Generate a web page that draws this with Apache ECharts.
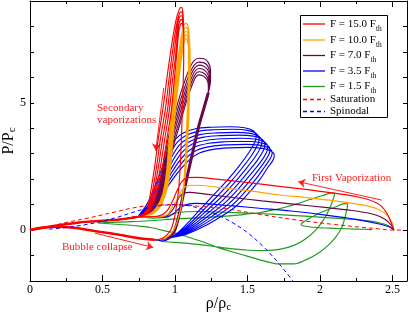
<!DOCTYPE html>
<html><head><meta charset="utf-8">
<script src="https://cdn.jsdelivr.net/npm/echarts@6/dist/echarts.min.js"></script>
<style>html,body{margin:0;padding:0;background:#fff}#c{width:409px;height:315px}</style>
</head><body><div id="c"></div>
<script>
// ---------- tick labels ----------
const xTickLabels = [0, 0.5, 1, 1.5, 2, 2.5];
const yTickLabels = [0, 5];

// ---------- reference curves ----------
const saturation = [[0,0],[0.1,0.1],[0.25,0.3],[0.4,0.47],[0.5,0.6],[0.6,0.73],[0.7,0.86],[0.8,0.95],[0.9,0.99],[1.0,1.0],[1.2,0.92],[1.36,0.83],[1.58,0.62],[1.86,0.38],[2.1,0.22],[2.27,0.12],[2.4,0.05],[2.5,0.0],[2.57,0.0]];
const spinodal = [[0.13,0.04],[0.2,0.07],[0.3,0.14],[0.4,0.23],[0.5,0.35],[0.6,0.5],[0.7,0.68],[0.8,0.85],[0.9,0.96],[1.0,1.0],[1.1,0.95],[1.2,0.8],[1.3,0.58],[1.4,0.28],[1.5,-0.1],[1.6,-0.6],[1.7,-1.2],[1.8,-1.9],[1.82,-2.05]];

// ---------- shared paths (bubble collapse / return to the origin) ----------
const collapsePath = [[0,0],[0.08,0.09],[0.18,0.13],[0.3,0.09],[0.46,-0.05],[0.6,-0.17],[0.7,-0.27],[0.78,-0.34],[0.86,-0.38]];
const returnPath = [[0.74,0.52],[0.65,0.44],[0.57,0.39],[0.45,0.35],[0.34,0.3],[0.22,0.21],[0.1,0.1],[0,0]];

// ---------- F = 15.0 Fth ----------
const redFirst = [[2.51,0],[2.49,0.3],[2.46,0.67],[2.41,1.0],[2.3,1.25],[2.1,1.45],[1.9,1.6],[1.72,1.72],[1.5,1.87],[1.3,1.99],[1.15,2.07],[1.09,2.06],[1.05,1.92],[1.01,1.5],[0.98,1.1],[0.94,0.72],[0.89,0.56],[0.8,0.52]];
const red0 = [[0.92,-0.3],[0.97,0.0],[1.0,0.6],[1.025,1.6],[1.04,3.0],[1.052,5.0],[1.06,6.8],[1.06,7.9],[1.055,8.5],[1.045,8.75],[1.03,8.68],[1.005,8.2],[0.975,7.2],[0.945,6.0],[0.92,4.9],[0.885,3.6],[0.86,2.5],[0.835,1.6],[0.815,1.0],[0.785,0.65]];
const red1 = [[0.92,-0.3],[0.97,0.0],[1.0,0.6],[1.025,1.6],[1.04,3.0],[1.052,5.0],[1.06,6.8],[1.06,7.85],[1.055,8.35],[1.045,8.57],[1.03,8.5],[1.01,8.05],[0.985,7.1],[0.958,5.9],[0.935,4.8],[0.9,3.6],[0.873,2.5],[0.847,1.6],[0.822,1.0],[0.79,0.65]];
const red2 = [[0.92,-0.3],[0.97,0.0],[1.0,0.6],[1.025,1.6],[1.04,3.0],[1.052,5.0],[1.06,6.8],[1.06,7.8],[1.055,8.22],[1.045,8.42],[1.03,8.35],[1.015,7.95],[0.995,7.0],[0.97,5.9],[0.95,4.8],[0.915,3.6],[0.886,2.5],[0.858,1.6],[0.83,1.0],[0.797,0.65]];
const red3 = [[0.92,-0.3],[0.97,0.0],[1.0,0.6],[1.025,1.6],[1.04,3.0],[1.052,5.0],[1.06,6.8],[1.06,7.75],[1.055,8.1],[1.045,8.28],[1.033,8.2],[1.02,7.85],[1.005,6.9],[0.983,5.9],[0.963,4.8],[0.93,3.6],[0.9,2.5],[0.87,1.6],[0.838,1.0],[0.805,0.65]];
const red4 = [[0.92,-0.3],[0.97,0.0],[1.0,0.6],[1.025,1.6],[1.04,3.0],[1.052,5.0],[1.06,6.8],[1.06,7.7],[1.055,7.98],[1.045,8.12],[1.036,8.05],[1.025,7.75],[1.012,6.9],[0.995,5.9],[0.977,4.8],[0.945,3.6],[0.914,2.5],[0.882,1.6],[0.847,1.0],[0.812,0.65]];

// ---------- F = 10.0 Fth ----------
const orangeFirst = [[2.51,0],[2.5,0.25],[2.47,0.55],[2.4,0.82],[2.3,0.98],[2.1,1.15],[1.9,1.28],[1.72,1.38],[1.5,1.55],[1.3,1.68],[1.15,1.76],[1.09,1.74],[1.05,1.6],[1.02,1.25],[0.98,0.9],[0.95,0.62],[0.9,0.52],[0.8,0.5]];
const orange0 = [[0.93,-0.32],[0.98,-0.1],[1.02,0.4],[1.05,1.2],[1.075,2.4],[1.09,3.8],[1.1,5.2],[1.105,6.5],[1.1,7.5],[1.09,8.0],[1.075,8.13],[1.06,8.02],[1.04,7.5],[1.015,6.5],[0.99,5.4],[0.97,4.3],[0.955,3.2],[0.94,2.2],[0.915,1.4],[0.875,0.9],[0.82,0.62]];
const orange1 = [[0.93,-0.32],[0.98,-0.1],[1.02,0.4],[1.05,1.2],[1.073,2.4],[1.087,3.8],[1.097,5.2],[1.102,6.5],[1.098,7.45],[1.09,7.85],[1.075,7.97],[1.06,7.87],[1.043,7.4],[1.02,6.45],[0.997,5.4],[0.977,4.3],[0.962,3.2],[0.946,2.2],[0.92,1.4],[0.88,0.9],[0.825,0.62]];
const orange2 = [[0.93,-0.32],[0.98,-0.1],[1.02,0.4],[1.05,1.2],[1.071,2.4],[1.084,3.8],[1.094,5.2],[1.099,6.5],[1.096,7.4],[1.088,7.72],[1.075,7.82],[1.062,7.72],[1.046,7.3],[1.025,6.4],[1.004,5.4],[0.984,4.3],[0.969,3.2],[0.952,2.2],[0.925,1.4],[0.885,0.9],[0.83,0.62]];
const orange3 = [[0.93,-0.32],[0.98,-0.1],[1.02,0.4],[1.05,1.2],[1.069,2.4],[1.081,3.8],[1.091,5.2],[1.096,6.5],[1.094,7.3],[1.086,7.58],[1.075,7.68],[1.063,7.58],[1.05,7.2],[1.03,6.35],[1.01,5.4],[0.99,4.3],[0.975,3.2],[0.958,2.2],[0.93,1.4],[0.89,0.9],[0.835,0.62]];
const orange4 = [[0.93,-0.32],[0.98,-0.1],[1.02,0.4],[1.05,1.2],[1.067,2.4],[1.078,3.8],[1.088,5.2],[1.093,6.5],[1.092,7.2],[1.085,7.43],[1.075,7.52],[1.064,7.43],[1.053,7.1],[1.035,6.3],[1.016,5.4],[0.996,4.3],[0.981,3.2],[0.964,2.2],[0.935,1.4],[0.895,0.9],[0.84,0.62]];

// ---------- F = 7.0 Fth ----------
const purpleFirst = [[2.51,0],[2.49,0.2],[2.45,0.42],[2.38,0.6],[2.25,0.75],[2.05,0.88],[1.8,1.03],[1.6,1.15],[1.4,1.28],[1.2,1.42],[1.1,1.48],[1.06,1.45],[1.03,1.3],[1.0,0.95],[0.97,0.7],[0.93,0.54],[0.85,0.5]];
const purpleRise = [[0.95,-0.32],[0.99,-0.1],[1.02,0.4],[1.05,1.2],[1.08,2.0],[1.12,3.0],[1.16,4.0],[1.2,4.8],[1.23,5.4]];
const purple0 = [[1.245,5.9],[1.245,6.3],[1.23,6.58],[1.2,6.73],[1.165,6.75],[1.13,6.65],[1.1,6.35],[1.07,5.9],[1.035,5.3],[1.0,4.6],[0.965,3.9],[0.935,3.1],[0.91,2.3],[0.885,1.6],[0.855,1.1],[0.81,0.72]];
const purple1 = [[1.243,5.85],[1.24,6.2],[1.225,6.45],[1.197,6.58],[1.165,6.6],[1.135,6.5],[1.105,6.2],[1.077,5.78],[1.043,5.2],[1.008,4.52],[0.973,3.82],[0.943,3.05],[0.917,2.25],[0.89,1.58],[0.86,1.08],[0.815,0.71]];
const purple2 = [[1.24,5.8],[1.237,6.1],[1.222,6.33],[1.195,6.45],[1.165,6.48],[1.138,6.38],[1.11,6.1],[1.084,5.68],[1.05,5.1],[1.015,4.44],[0.98,3.75],[0.95,3.0],[0.923,2.2],[0.896,1.55],[0.865,1.06],[0.82,0.7]];
const purple3 = [[1.237,5.75],[1.233,6.0],[1.218,6.2],[1.192,6.32],[1.165,6.35],[1.14,6.26],[1.115,6.0],[1.09,5.6],[1.057,5.02],[1.022,4.36],[0.987,3.68],[0.957,2.95],[0.93,2.15],[0.902,1.52],[0.87,1.04],[0.825,0.69]];
const purple4 = [[1.234,5.7],[1.23,5.9],[1.215,6.08],[1.19,6.19],[1.165,6.22],[1.142,6.14],[1.12,5.9],[1.096,5.52],[1.064,4.95],[1.03,4.28],[0.994,3.6],[0.964,2.9],[0.936,2.1],[0.908,1.5],[0.875,1.02],[0.83,0.68]];
const purple5 = [[1.23,5.65],[1.226,5.82],[1.212,5.97],[1.188,6.07],[1.165,6.1],[1.145,6.03],[1.125,5.8],[1.102,5.45],[1.07,4.88],[1.036,4.2],[1.0,3.52],[0.97,2.85],[0.942,2.05],[0.914,1.47],[0.88,1.0],[0.835,0.67]];

// ---------- F = 3.5 Fth ----------
const blueFirst = [[2.51,0],[2.48,0.12],[2.4,0.25],[2.25,0.42],[2.04,0.59],[1.8,0.75],[1.58,0.86],[1.4,0.95],[1.25,1.02],[1.15,1.05],[1.08,1.0],[1.03,0.85],[0.99,0.65],[0.95,0.52],[0.86,0.5]];
const blue0 = [[0.92,-0.42],[0.97,-0.3],[1.03,-0.05],[1.1,0.35],[1.18,0.85],[1.27,1.4],[1.36,1.95],[1.44,2.5],[1.51,3.05],[1.55,3.45],[1.56,3.7],[1.54,3.9],[1.48,4.02],[1.38,4.06],[1.25,4.04],[1.14,3.98],[1.06,3.82],[1.0,3.55],[0.96,3.15],[0.915,2.5],[0.875,1.9],[0.84,1.4],[0.8,0.95],[0.76,0.65]];
const blue1 = [[0.92,-0.42],[0.97,-0.3],[1.035,-0.07],[1.11,0.3],[1.195,0.78],[1.29,1.32],[1.38,1.87],[1.46,2.42],[1.53,2.95],[1.57,3.35],[1.58,3.6],[1.56,3.8],[1.5,3.92],[1.4,3.96],[1.27,3.94],[1.16,3.88],[1.075,3.72],[1.015,3.45],[0.972,3.05],[0.925,2.45],[0.885,1.88],[0.85,1.38],[0.81,0.93],[0.765,0.64]];
const blue2 = [[0.92,-0.42],[0.97,-0.3],[1.04,-0.09],[1.12,0.26],[1.21,0.72],[1.31,1.25],[1.4,1.8],[1.48,2.34],[1.55,2.85],[1.59,3.24],[1.6,3.48],[1.58,3.68],[1.52,3.8],[1.42,3.84],[1.29,3.82],[1.18,3.76],[1.09,3.6],[1.03,3.34],[0.985,2.95],[0.935,2.38],[0.895,1.85],[0.86,1.35],[0.82,0.91],[0.77,0.63]];
const blue3 = [[0.92,-0.42],[0.97,-0.3],[1.045,-0.11],[1.13,0.22],[1.225,0.66],[1.33,1.18],[1.42,1.72],[1.5,2.26],[1.57,2.76],[1.61,3.14],[1.62,3.37],[1.6,3.57],[1.54,3.69],[1.44,3.73],[1.31,3.71],[1.2,3.65],[1.105,3.49],[1.045,3.23],[0.997,2.85],[0.945,2.3],[0.905,1.82],[0.87,1.32],[0.83,0.89],[0.775,0.62]];
const blue4 = [[0.92,-0.42],[0.97,-0.3],[1.05,-0.13],[1.14,0.18],[1.24,0.6],[1.35,1.1],[1.44,1.64],[1.52,2.18],[1.59,2.67],[1.63,3.04],[1.64,3.26],[1.62,3.45],[1.56,3.57],[1.46,3.61],[1.33,3.59],[1.22,3.53],[1.12,3.38],[1.06,3.12],[1.01,2.75],[0.955,2.22],[0.915,1.78],[0.88,1.29],[0.84,0.87],[0.78,0.61]];
const blue5 = [[0.92,-0.42],[0.97,-0.3],[1.055,-0.15],[1.15,0.14],[1.255,0.54],[1.37,1.03],[1.46,1.56],[1.54,2.1],[1.605,2.58],[1.645,2.94],[1.655,3.15],[1.635,3.34],[1.575,3.45],[1.475,3.49],[1.345,3.47],[1.235,3.41],[1.135,3.26],[1.075,3.01],[1.022,2.65],[0.965,2.15],[0.925,1.74],[0.89,1.26],[0.85,0.85],[0.785,0.6]];
const blue6 = [[0.92,-0.42],[0.97,-0.3],[1.06,-0.17],[1.16,0.1],[1.27,0.48],[1.39,0.96],[1.48,1.48],[1.56,2.02],[1.62,2.5],[1.66,2.84],[1.67,3.04],[1.65,3.22],[1.59,3.33],[1.49,3.37],[1.36,3.35],[1.25,3.29],[1.15,3.14],[1.09,2.9],[1.035,2.55],[0.975,2.08],[0.935,1.7],[0.9,1.23],[0.86,0.83],[0.79,0.59]];
const blue7 = [[0.92,-0.42],[0.97,-0.3],[1.065,-0.19],[1.17,0.06],[1.285,0.42],[1.41,0.89],[1.5,1.4],[1.58,1.94],[1.635,2.42],[1.675,2.74],[1.685,2.93],[1.665,3.1],[1.605,3.21],[1.505,3.25],[1.375,3.23],[1.265,3.17],[1.165,3.02],[1.105,2.79],[1.048,2.45],[0.985,2.0],[0.945,1.66],[0.91,1.2],[0.87,0.81],[0.795,0.58]];

// ---------- F = 1.5 Fth ----------
const greenFirst = [[2.51,0],[2.47,0.18],[2.4,0.3],[2.3,0.38],[2.15,0.45],[2.0,0.51],[1.8,0.58],[1.58,0.65],[1.35,0.7],[1.15,0.73],[1.03,0.7],[0.97,0.6],[0.92,0.5],[0.85,0.47]];
const greenLoop1 = [[0.93,-0.46],[1.05,-0.5],[1.17,-0.57],[1.29,-0.66],[1.4,-0.74],[1.51,-0.79],[1.62,-0.8],[1.72,-0.76],[1.82,-0.6],[1.9,-0.35],[1.97,0.0],[2.03,0.45],[2.07,0.9],[2.09,1.2],[2.1,1.42],[2.08,1.45],[2.02,1.36],[1.93,1.2],[1.84,1.03],[1.76,0.9],[1.67,0.78],[1.58,0.68],[1.45,0.6],[1.3,0.53],[1.15,0.48],[1.0,0.44],[0.85,0.38],[0.7,0.33],[0.55,0.3],[0.47,0.28]];
const greenLoop2 = [[0.52,0.26],[0.62,0.22],[0.73,0.17],[0.83,0.1],[0.94,-0.04],[1.05,-0.2],[1.17,-0.42],[1.29,-0.67],[1.41,-0.88],[1.52,-1.06],[1.62,-1.22],[1.72,-1.33],[1.82,-1.33],[1.91,-1.15],[1.99,-0.9],[2.06,-0.58],[2.11,-0.27],[2.15,0.1],[2.17,0.45],[2.185,0.8],[2.19,1.02],[2.17,1.04],[2.11,0.92],[2.05,0.79],[1.99,0.65],[1.94,0.5],[1.9,0.37],[1.875,0.27],[1.87,0.21],[1.9,0.15],[1.98,0.1],[2.1,0.07],[2.25,0.04],[2.36,0.02]];

// ---------- assemble trajectories ----------
function cycles(first, loops, rise) {
  let out = first.concat(returnPath);
  loops.forEach(l => { out = out.concat(collapsePath, rise || [], l, returnPath); });
  return out;
}
const f15 = cycles(redFirst, [red0, red1, red2, red3, red4]);
const f10 = cycles(orangeFirst, [orange0, orange1, orange2, orange3, orange4]);
const f7 = cycles(purpleFirst, [purple0, purple1, purple2, purple3, purple4, purple5], purpleRise);
const f35 = cycles(blueFirst, [blue0, blue1, blue2, blue3, blue4, blue5, blue6, blue7]);
const f15th = greenFirst.concat(returnPath, collapsePath, greenLoop1, greenLoop2);

const colors = {red:'#ff0000', orange:'#ffa500', purple:'#670748', blue:'#0000ff', green:'#1e9a1e'};
const legendItems = [
  {main:'F = 15.0 F', sub:'th', color:colors.red, dashed:false},
  {main:'F = 10.0 F', sub:'th', color:colors.orange, dashed:false},
  {main:'F = 7.0 F', sub:'th', color:colors.purple, dashed:false},
  {main:'F = 3.5 F', sub:'th', color:colors.blue, dashed:false},
  {main:'F = 1.5 F', sub:'th', color:colors.green, dashed:false},
  {main:'Saturation', sub:'', color:colors.red, dashed:true},
  {main:'Spinodal', sub:'', color:colors.blue, dashed:true}
];

const FONT = 'Liberation Serif';
const chart = echarts.init(document.getElementById('c'), null, {renderer:'canvas'});

function lineSeries(name, data, color, width, dashed, z) {
  return {name, type:'line', data, showSymbol:false, symbol:'none', smooth:0.35, z:z||2,
    lineStyle:{color, width:width||1.15, type: dashed ? [4,3] : 'solid'}, itemStyle:{color},
    emphasis:{disabled:true}, silent:true, animation:false};
}
const arrowMark = {
  silent:true, symbol:['none','arrow'], symbolSize:7, animation:false,
  label:{show:false}, emphasis:{disabled:true},
  lineStyle:{color:'#ff2020', width:1, type:'solid'},
  data:[
    [{coord:[0.922,5.58]},{coord:[0.867,3.12]}],
    [{coord:[0.447,-0.12]},{coord:[0.85,-0.68]}],
    [{coord:[2.425,1.18]},{coord:[1.85,1.9]}]
  ]
};
const satSeries = lineSeries('Saturation', saturation, colors.red, 1, true, 8);
satSeries.markLine = arrowMark;

// legend drawn as graphic elements (line samples + rich text with subscripts)
const legendRowY = [24, 40, 55.5, 71, 86.5, 99.5, 111.5];
const legendGraphics = [{type:'rect', shape:{x:300.5, y:15.5, width:87, height:102}, style:{fill:'#fff', stroke:'#000', lineWidth:1}, z:100, silent:true}];
legendItems.forEach((it, i) => {
  const y = legendRowY[i];
  legendGraphics.push({type:'line', shape:{x1:303, y1:y, x2:325, y2:y}, z:101, silent:true,
    style:{stroke:it.color, lineWidth:1.3, lineDash: it.dashed ? [4,3] : null}});
  legendGraphics.push({type:'text', x:330, y:y, z:101, silent:true,
    style:{text: it.sub ? '{a|' + it.main + '}{s|' + it.sub + '}' : '{a|' + it.main + '}',
      verticalAlign:'middle', align:'left',
      rich:{a:{fontFamily:FONT, fontSize:11, fill:'#000', lineHeight:14},
            s:{fontFamily:FONT, fontSize:7.5, fill:'#000', verticalAlign:'bottom', lineHeight:18}}}});
});

const nameRich = {a:{fontFamily:FONT, fontSize:16, color:'#000', lineHeight:16}, b:{fontFamily:FONT, fontSize:11, color:'#000', verticalAlign:'bottom', lineHeight:19}};
const axisCommon = {type:'value', splitLine:{show:false}, axisLine:{show:true, onZero:false, lineStyle:{color:'#000', width:1}}};
const option = {
  animation:false,
  backgroundColor:'#fff',
  grid:{left:30, right:2, top:1, bottom:34, containLabel:false, outerBoundsMode:'none'},
  xAxis:[
    Object.assign({}, axisCommon, {position:'bottom', min:0, max:2.6, interval:0.5,
      axisTick:{inside:true, length:6, lineStyle:{color:'#000'}},
      minorTick:{show:true, splitNumber:2, length:3, lineStyle:{color:'#000'}},
      axisLabel:{color:'#000', fontFamily:FONT, fontSize:12, margin:3, showMaxLabel:false,
        formatter: v => xTickLabels.indexOf(v) >= 0 ? String(v) : ''},
      name:'{a|ρ/ρ}{b|c}', nameLocation:'middle', nameGap:13, nameMoveOverlap:false,
      nameTextStyle:{rich:nameRich}}),
    Object.assign({}, axisCommon, {position:'top', min:0, max:2.6, interval:0.5,
      axisTick:{inside:true, length:6, lineStyle:{color:'#000'}},
      minorTick:{show:true, splitNumber:2, length:3, lineStyle:{color:'#000'}},
      axisLabel:{show:false}})
  ],
  yAxis:[
    Object.assign({}, axisCommon, {position:'left', min:-2, max:9, interval:1,
      axisTick:{inside:true, length:4, lineStyle:{color:'#000'}},
      axisLabel:{color:'#000', fontFamily:FONT, fontSize:12, margin:4,
        formatter: v => yTickLabels.indexOf(v) >= 0 ? String(v) : ''},
      name:'{a|P/P}{b|c}', nameLocation:'middle', nameGap:12, nameRotate:90, nameMoveOverlap:false,
      nameTextStyle:{rich:nameRich}}),
    Object.assign({}, axisCommon, {position:'right', min:-2, max:9, interval:1,
      axisTick:{inside:true, length:4, lineStyle:{color:'#000'}},
      axisLabel:{show:false}})
  ],
  graphic:[
    {type:'text', left:97, top:103, silent:true, style:{text:'Secondary', font:'11px "Liberation Serif"', fill:'#ff2020'}},
    {type:'text', left:97, top:115, silent:true, style:{text:'vaporizations', font:'11px "Liberation Serif"', fill:'#ff2020'}},
    {type:'text', left:62, top:242, silent:true, style:{text:'Bubble collapse', font:'11px "Liberation Serif"', fill:'#ff2020'}},
    {type:'text', left:312, top:173, silent:true, style:{text:'First Vaporization', font:'11px "Liberation Serif"', fill:'#ff2020'}}
  ].concat(legendGraphics),
  series:[
    lineSeries('F = 1.5 Fth', f15th, colors.green, 1.15, false, 2),
    lineSeries('F = 3.5 Fth', f35, colors.blue, 1.15, false, 3),
    lineSeries('F = 7.0 Fth', f7, colors.purple, 1.15, false, 4),
    lineSeries('purple-rise-band', purpleRise, colors.purple, 3, false, 4),
    lineSeries('F = 10.0 Fth', f10, colors.orange, 1.15, false, 5),
    lineSeries('F = 15.0 Fth', f15, colors.red, 1.15, false, 6),
    lineSeries('collapse-band', collapsePath, colors.red, 2.4, false, 6),
    lineSeries('return-band', returnPath, colors.red, 2.4, false, 6),
    satSeries,
    lineSeries('Spinodal', spinodal, colors.blue, 1, true, 7)
  ]
};
chart.setOption(option);
</script></body></html>
